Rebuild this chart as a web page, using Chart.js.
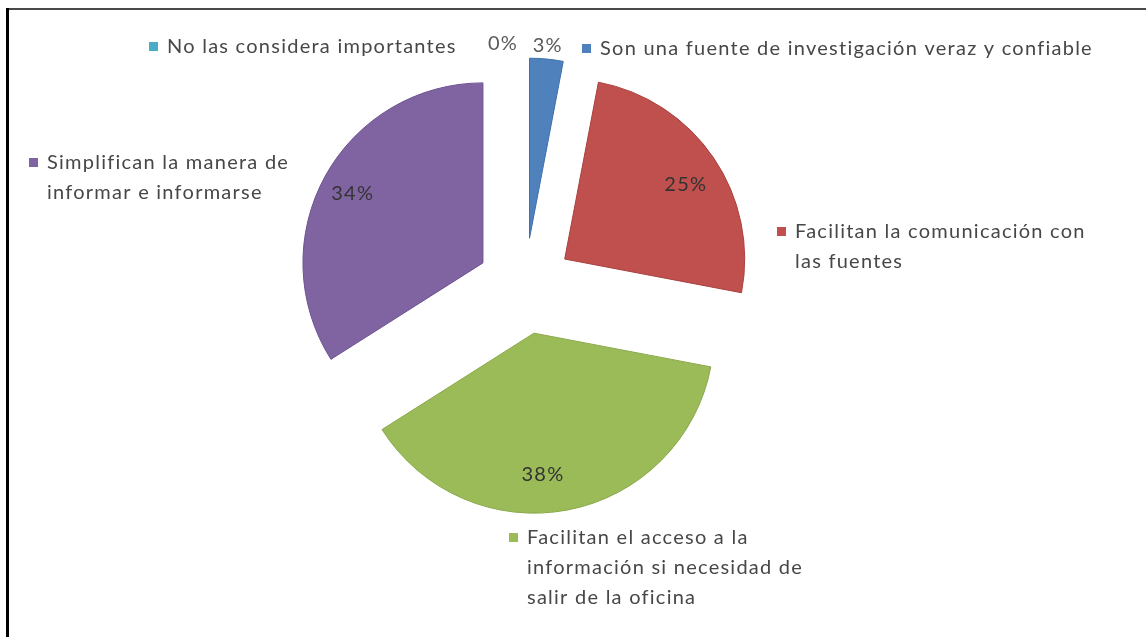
<!DOCTYPE html>
<html>
<head>
<meta charset="utf-8">
<script src="https://cdn.jsdelivr.net/npm/chart.js@4.4.0/dist/chart.umd.min.js"></script>
<style>
  html, body { margin: 0; padding: 0; background: #fff; }
  #wrap { width: 1146px; height: 637px; }
</style>
</head>
<body>
<div id="wrap"><canvas id="pieChart" width="1146" height="637"></canvas></div>
<script>
// data (clockwise from 12 o'clock)
const categories = [
  ['Son una fuente de investigación veraz y confiable'],
  ['Facilitan la comunicación con', 'las fuentes'],
  ['Facilitan el acceso a la', 'información si necesidad de', 'salir de la oficina'],
  ['Simplifican la manera de', 'informar e informarse'],
  ['No las considera importantes']
];
const shares = [3, 25, 38, 34, 0];

const sliceColors = ['#4f81bd', '#c0504d', '#9bbb59', '#8064a2', '#4bacc6'];
const sliceEdges = ['#3f6fa8', '#a8403d', '#89a84a', '#6c5290', '#3a97b0'];

// where Excel put the category labels: [square left, middle of first line]
const nameAnchors = [[582, 49], [777, 232], [509, 538], [29, 163], [149, 47]];
// small shifts Excel applied to the % labels
const pctNudge = [[0, 0], [2, 6], [-18, 0], [-4, 0], [-22, 0]];
const lineGap = 30;
const explode = 48;
const FONT = '20px Lato, "Open Sans", sans-serif';

// pull each slice out along its bisector without the radius "fix" Chart.js adds
const baseArcDraw = Chart.ArcElement.prototype.draw;
Chart.ArcElement.prototype.draw = function (ctx, area) {
  const mid = (this.startAngle + this.endAngle) / 2;
  ctx.save();
  ctx.translate(Math.cos(mid) * explode, Math.sin(mid) * explode);
  baseArcDraw.call(this, ctx, area);
  ctx.restore();
};

const frame = {
  id: 'frame',
  afterDraw(chart) {
    const ctx = chart.ctx;
    ctx.save();
    ctx.fillStyle = '#4a4a4a';
    ctx.fillRect(7, 8, 1139, 2);
    ctx.fillStyle = '#000';
    ctx.fillRect(6, 8, 3, 629);
    ctx.restore();
  }
};

const sliceLabels = {
  id: 'sliceLabels',
  afterDatasetsDraw(chart) {
    const ctx = chart.ctx;
    const arcs = chart.getDatasetMeta(0).data;
    ctx.save();
    ctx.font = FONT;
    ctx.letterSpacing = '1.25px';
    ctx.textBaseline = 'middle';

    arcs.forEach((arc, i) => {
      const mid = (arc.startAngle + arc.endAngle) / 2;
      const r = arc.outerRadius;
      const small = shares[i] < 5;
      const d = small ? explode + r + 14 : explode + r * 0.8;
      const px = arc.x + Math.cos(mid) * d + pctNudge[i][0];
      const py = arc.y + Math.sin(mid) * d + pctNudge[i][1];
      ctx.textAlign = 'center';
      ctx.fillStyle = small ? '#5a5a5a' : '#333333';
      ctx.fillText(shares[i] + '%', px, py);

      // category name with its colour key
      const [sx, sy] = nameAnchors[i];
      ctx.fillStyle = sliceColors[i];
      ctx.fillRect(sx, sy - 5, 9, 9);
      ctx.fillStyle = '#474747';
      ctx.textAlign = 'left';
      categories[i].forEach((line, k) => {
        ctx.fillText(line, sx + 18, sy + k * lineGap);
      });
    });
    ctx.restore();
  }
};

new Chart(document.getElementById('pieChart'), {
  type: 'pie',
  data: {
    labels: categories.map(c => c.join(' ')),
    datasets: [{
      data: shares,
      backgroundColor: sliceColors,
      borderColor: sliceEdges,
      borderWidth: 1,
      radius: 180
    }]
  },
  options: {
    responsive: false,
    animation: false,
    layout: { padding: { left: 0, right: 96, top: 0, bottom: 65 } },
    plugins: {
      legend: { display: false },
      tooltip: { enabled: false }
    }
  },
  plugins: [sliceLabels, frame]
});
</script>
</body>
</html>
